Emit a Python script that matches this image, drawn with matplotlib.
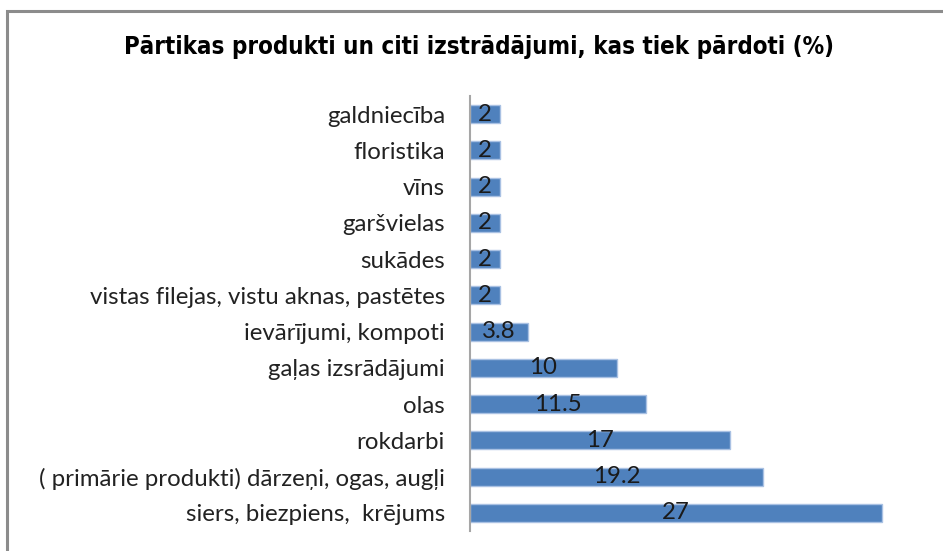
import matplotlib.pyplot as plt
from matplotlib.patches import Rectangle

kategorijas = [
    'siers, biezpiens,  krējums',
    '( primārie produkti) dārzeņi, ogas, augļi',
    'rokdarbi',
    'olas',
    'gaļas izsrādājumi',
    'ievārījumi, kompoti',
    'vistas filejas, vistu aknas, pastētes',
    'sukādes',
    'garšvielas',
    'vīns',
    'floristika',
    'galdniecība',
]
# stabiņu garums nolasīts no attēla, uzraksti - kā oriģinālā
vertibas = [27, 19.2, 17, 11.5, 9.6, 3.8, 1.95, 1.95, 1.95, 1.95, 1.95, 1.95]
uzraksti = ['27', '19.2', '17', '11.5', '10', '3.8', '2', '2', '2', '2', '2', '2']
virsraksts = 'Pārtikas produkti un citi izstrādājumi, kas tiek pārdoti (%)'

fig = plt.figure(figsize=(9.43, 5.51), dpi=100)
ax = fig.add_axes([0.4984, 0.0363, 0.4857, 0.7895])

# rāmis ap diagrammu
fig.patches.append(Rectangle((0.007, -0.05), 1.1, 1.03, transform=fig.transFigure,
                             fill=False, edgecolor='#8c8c8c', linewidth=2.2))

y = range(len(kategorijas))
bars = ax.barh(y, vertibas, height=0.5, color='#4f81bd', edgecolor='#a9c1e3', linewidth=1)
ax.bar_label(bars, labels=uzraksti, label_type='center',
             fontsize=17.3, family='Lato', color='#1a1a1a')

ax.set_yticks(list(y))
ax.set_yticklabels(kategorijas, fontsize=17.3, family='Lato', color='#222222')
ax.tick_params(axis='y', length=0, pad=18)
ax.set_xticks([])
ax.set_xlim(0, 30)
ax.set_ylim(-0.5, len(kategorijas) - 0.5)
for s in ['top', 'right', 'bottom']:
    ax.spines[s].set_visible(False)
ax.spines['left'].set_color('#a6a6a6')
ax.spines['left'].set_linewidth(1.5)

fig.text(0.508, 0.915, virsraksts, ha='center', va='center', fontsize=17.3,
         fontweight='bold', fontstretch='condensed', family='DejaVu Sans')

fig.savefig('out.png', dpi=100)
